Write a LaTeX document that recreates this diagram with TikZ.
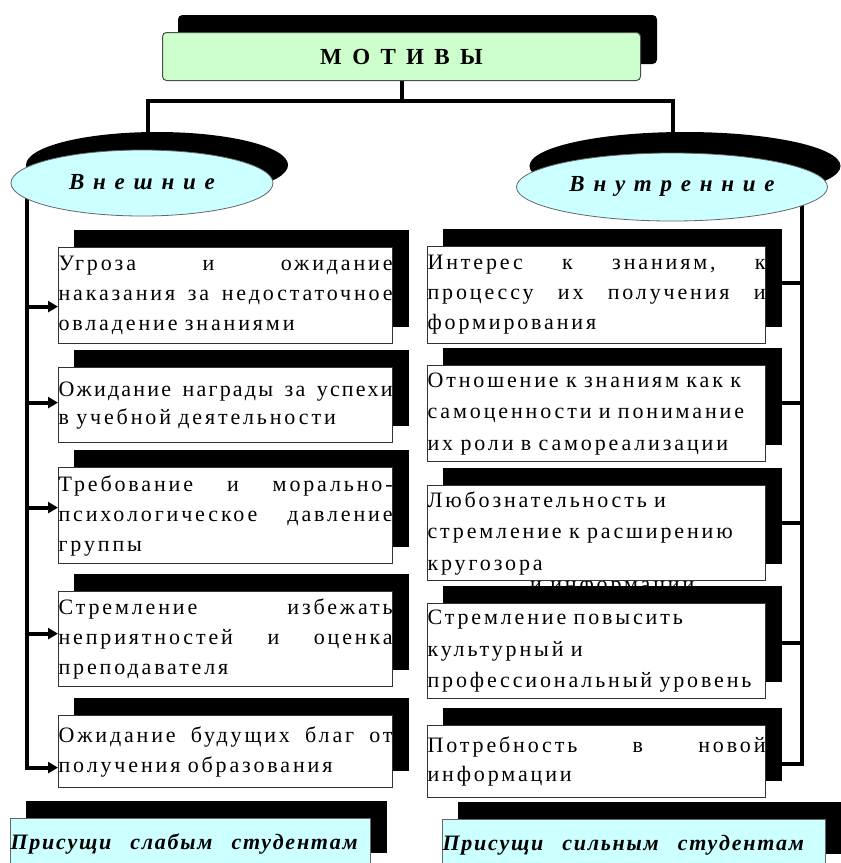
\documentclass[tikz,border=0pt]{standalone}
\usepackage{fontspec}
\setmainfont{Liberation Serif}
\newfontfamily\bodyf[LetterSpace=13]{Liberation Serif}
\newfontfamily\bodyg[LetterSpace=10]{Liberation Serif}
\newfontfamily\ellf[LetterSpace=38]{Liberation Serif}
\newfontfamily\botf[LetterSpace=8]{Liberation Serif}
\newfontfamily\topf[LetterSpace=20]{Liberation Serif}
\usetikzlibrary{shadows,arrows.meta,shapes.geometric}
\definecolor{lgreen}{HTML}{CCFFCC}
\definecolor{lcyan}{HTML}{CCFFFF}
\pgfdeclarelayer{bg}
\pgfdeclarelayer{paper}
\pgfsetlayers{paper,bg,main}
\newcommand{\jl}[2]{\leavevmode\hbox to #1pt{#2}}
\newcommand{\gap}{\hfill}
\newcommand{\wsp}{\hspace{19pt}}
\begin{document}
\begin{tikzpicture}[x=1pt,y=-1pt,
  shd/.style={general shadow={fill=black,draw=black,shadow xshift=16pt,shadow yshift=17pt}},
  lbox/.style={draw=black!80,line width=1.2pt,fill=white,shd,inner xsep=0pt,inner ysep=0pt,
    anchor=north west,align=left,font=\bodyf\fontsize{22}{30}\selectfont},
  ell/.style={ellipse,draw=black!60,line width=0.8pt,fill=lcyan,inner sep=0pt,
    font=\ellf\bfseries\itshape\fontsize{23}{26}\selectfont},
  conn/.style={line width=4pt,black},
  arr/.style={line width=4pt,black,-{Triangle[length=10pt,width=11pt]}},
  botbox/.style={draw=black!60,line width=1pt,fill=lcyan,shd,anchor=north west,inner xsep=0pt,
    align=left,font=\botf\bfseries\itshape\fontsize{22}{24}\selectfont}]
\useasboundingbox (0,0) rectangle (841,863);
\clip (0,0) rectangle (841,863);
\begin{pgfonlayer}{paper}
\fill[white] (0,0) rectangle (841,863);
\end{pgfonlayer}

% top box
\node[draw=black!70,line width=1pt,fill=lgreen,rounded corners=4pt,anchor=north west,
  minimum width=478pt,minimum height=48pt,shd,
  font=\topf\bfseries\fontsize{23}{24}\selectfont] (M) at (162,32) {М О Т И В Ы};

% ellipses
\node[ell,minimum width=262pt,minimum height=66pt,
  general shadow={fill=black,shadow xshift=15pt,shadow yshift=18pt}] (E1) at (142,183)
  {\raisebox{3pt}{Внешние}};
\node[ell,minimum width=311pt,minimum height=68pt,
  general shadow={fill=black,shadow xshift=13pt,shadow yshift=21pt}] (E2) at (672,187)
  {\raisebox{6pt}{Внутренние}};

% left boxes
\node[lbox,text width=334pt,minimum height=96pt] (L1) at (58,247)
  {\jl{334}{Угроза\gap и\gap ожидание}\\\jl{334}{наказания\gap за\gap недостаточное}\\овладение знаниями};
\node[lbox,text width=334pt,minimum height=75pt,font=\bodyf\fontsize{22}{28}\selectfont] (L2) at (58,367)
  {\jl{334}{\bodyg Ожидание\gap награды\gap за\gap успехи}\\в учебной деятельности};
\node[lbox,text width=334pt,minimum height=96pt] (L3) at (58,467)
  {\jl{334}{Требование\gap и\gap морально-}\\\jl{334}{психологическое\gap давление}\\группы};
\node[lbox,text width=334pt,minimum height=95pt] (L4) at (58,591)
  {\jl{334}{Стремление\gap избежать}\\\jl{334}{неприятностей\gap и\gap оценка}\\преподавателя};
\node[lbox,text width=334pt,minimum height=72pt] (L5) at (58,715)
  {\jl{334}{Ожидание\gap будущих\gap благ\gap от}\\получения образования};

% right boxes
\node[lbox,text width=338pt,minimum height=97pt] (R1) at (427,246)
  {\jl{338}{Интерес\gap к\gap знаниям,\gap к}\\\jl{338}{процессу\gap их\gap получения\gap и}\\формирования};
\node[lbox,text width=338pt,minimum height=96pt,font=\bodyf\fontsize{22}{31.5}\selectfont] (R2) at (427,365)
  {Отношение к знаниям как к\\самоценности и понимание\\их роли в самореализации};
\node[lbox,text width=338pt,minimum height=95pt,font=\bodyf\fontsize{22}{31.5}\selectfont] (R3) at (427,485)
  {Любознательность и\\стремление к расширению\\кругозора};
\node[lbox,text width=338pt,minimum height=95pt,font=\bodyf\fontsize{22}{31.5}\selectfont] (R4) at (427,603)
  {Стремление повысить\\культурный и\\профессиональный уровень};
\node[lbox,text width=338pt,minimum height=72pt,font=\bodyf\fontsize{22}{29}\selectfont] (R5) at (427,725)
  {\jl{338}{Потребность\gap в\gap новой}\\информации};

% bottom boxes
\node[botbox,text width=360pt,minimum height=51pt] (B1) at (10,818)
  {Присущи\wsp слабым\wsp студентам};
\node[botbox,text width=383pt,minimum height=51pt] (B2) at (442,819)
  {Присущи\wsp сильным\wsp студентам};

\begin{pgfonlayer}{bg}
  \node[anchor=base west,inner sep=0pt,font=\bodyf\fontsize{22}{30}\selectfont] (ghost) at (530,591) {и информации};
  \coordinate (hub) at (M.south |- 0,101);
  \draw[conn] (M.south) -- (hub);
  \draw[conn] ([xshift=6pt]E1.north) |- (hub) -| ([xshift=1pt]E2.north);
  % left side
  \coordinate (lv) at (27,195);
  \coordinate (a1) at ([yshift=-11pt]L1.west);
  \coordinate (a2) at ([yshift=2.5pt]L2.west);
  \coordinate (a3) at ([yshift=8pt]L3.west);
  \coordinate (a4) at ([yshift=5.5pt]L4.west);
  \coordinate (a5) at ([yshift=-16pt]L5.west);
  % right side
  \coordinate (rv) at (802,200);
  \coordinate (r1) at ([yshift=12.5pt]R1.east);
  \coordinate (r2) at ([yshift=11pt]R2.east);
  \coordinate (r3) at ([yshift=10.5pt]R3.east);
  \coordinate (r4) at ([yshift=8.5pt]R4.east);
  \coordinate (r5) at ([yshift=-2pt]R5.east);
  \draw[conn] (rv) |- (r5);
  \draw[conn] (rv |- r1) -- (r1);
  \draw[conn] (rv |- r2) -- (r2);
  \draw[conn] (rv |- r3) -- (r3);
  \draw[conn] (rv |- r4) -- (r4);
  \draw[conn] (lv) |- ([xshift=-8pt]a5);
\end{pgfonlayer}
\draw[arr] ([xshift=-8pt]a5) -- (a5);
\draw[arr] (lv |- a1) -- (a1);
\draw[arr] (lv |- a2) -- (a2);
\draw[arr] (lv |- a3) -- (a3);
\draw[arr] (lv |- a4) -- (a4);
\end{tikzpicture}
\end{document}
